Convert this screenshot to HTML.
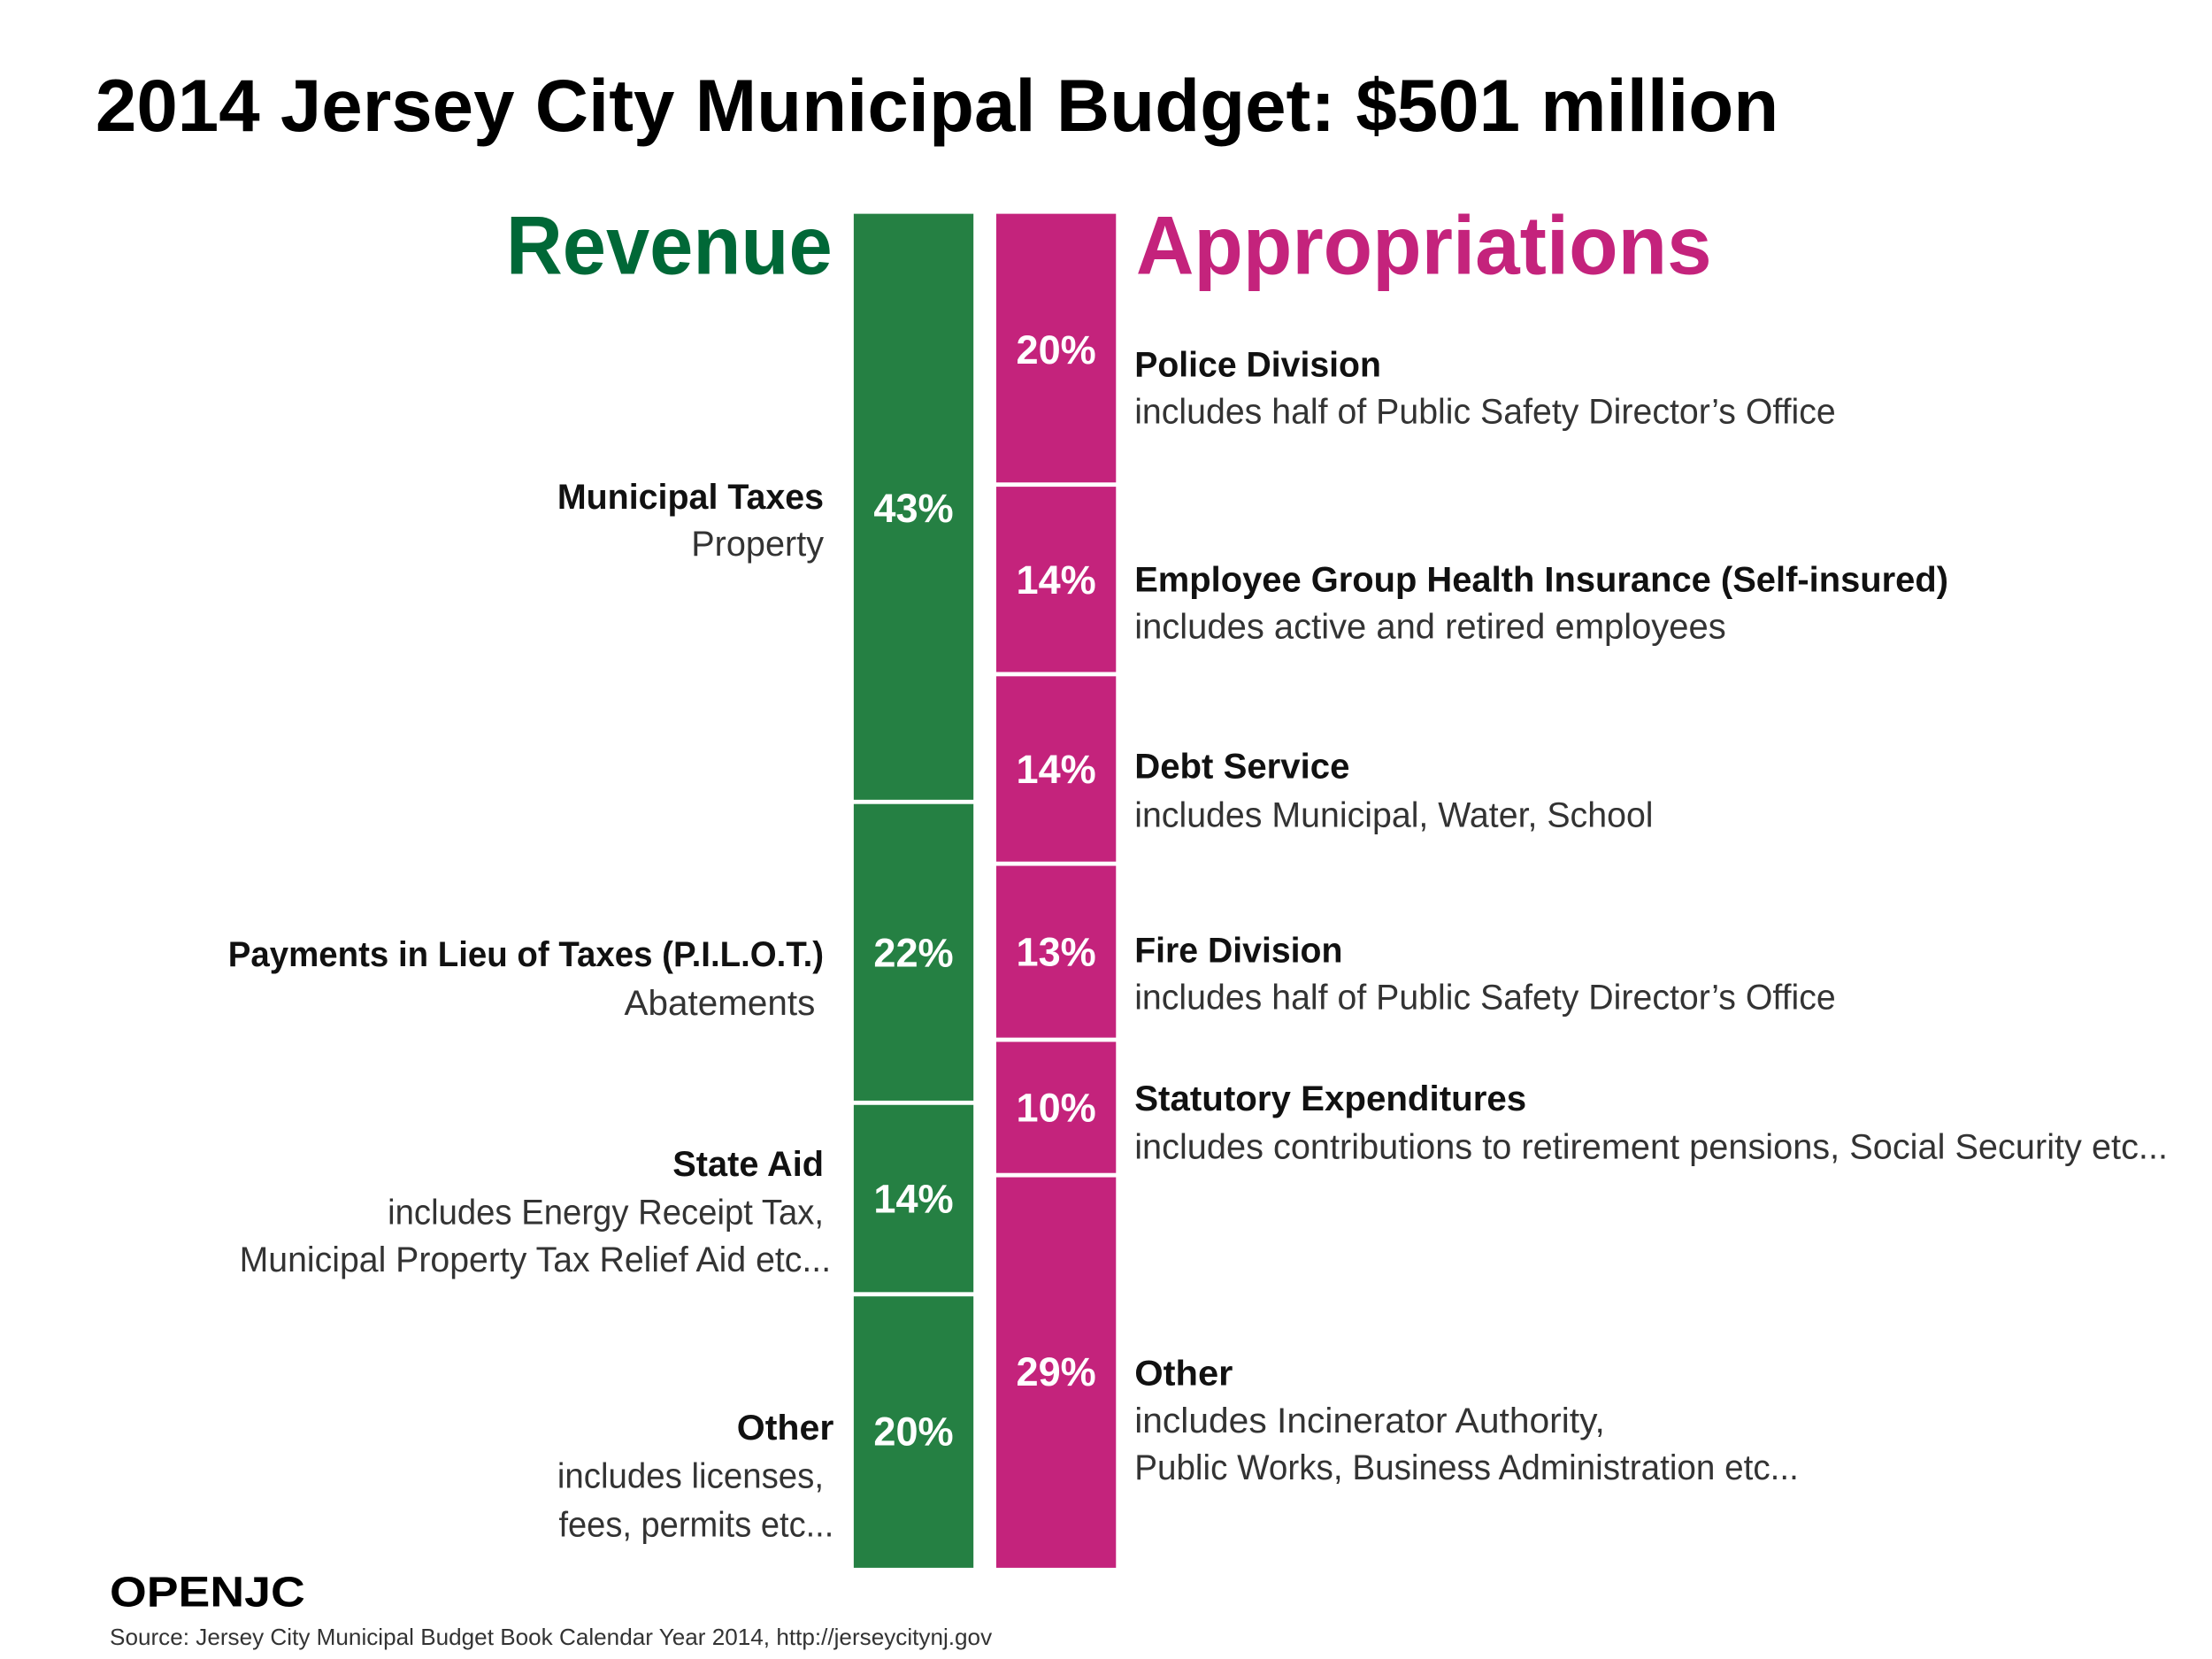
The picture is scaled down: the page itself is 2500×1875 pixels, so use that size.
<!DOCTYPE html>
<html><head><meta charset="utf-8"><style>
html,body{margin:0;padding:0;background:#fff;}
svg{display:block;}
text{font-family:"Liberation Sans",sans-serif;}
.b{font-weight:bold;fill:#111;font-size:25px;}
.l{fill:#333;font-size:25px;}
.pct{font-weight:bold;fill:#fff;font-size:28px;text-anchor:middle;}
</style></head><body>
<svg id="chart" width="2500" height="1875" viewBox="0 0 1552 1164" xmlns="http://www.w3.org/2000/svg">
<rect width="1552" height="1164" fill="#fff"/>
<text x="67" y="92" font-size="52" font-weight="bold" fill="#000" textLength="1181" lengthAdjust="spacingAndGlyphs">2014 Jersey City Municipal Budget:  $501 million</text>
<text x="355" y="192" font-size="58" font-weight="bold" fill="#006837" textLength="229" lengthAdjust="spacingAndGlyphs">Revenue</text>
<text x="797" y="192" font-size="58" font-weight="bold" fill="#C4237C" textLength="404" lengthAdjust="spacingAndGlyphs">Appropriations</text>
<g id="bars"></g>

<g text-anchor="end">
<text class="b" x="578" y="357" textLength="187" lengthAdjust="spacingAndGlyphs">Municipal Taxes</text>
<text class="l" x="578" y="390" textLength="93" lengthAdjust="spacingAndGlyphs">Property</text>
<text class="b" x="578" y="678" textLength="418" lengthAdjust="spacingAndGlyphs">Payments in Lieu of Taxes (P.I.L.O.T.)</text>
<text class="l" x="572" y="712" textLength="134" lengthAdjust="spacingAndGlyphs">Abatements</text>
<text class="b" x="578" y="825" textLength="106" lengthAdjust="spacingAndGlyphs">State Aid</text>
<text class="l" x="578" y="859" textLength="306" lengthAdjust="spacingAndGlyphs">includes Energy Receipt Tax,</text>
<text class="l" x="583" y="892" textLength="415" lengthAdjust="spacingAndGlyphs">Municipal Property Tax Relief Aid etc...</text>
<text class="b" x="585" y="1010" textLength="68" lengthAdjust="spacingAndGlyphs">Other</text>
<text class="l" x="578" y="1044" textLength="187" lengthAdjust="spacingAndGlyphs">includes licenses,</text>
<text class="l" x="585" y="1078" textLength="193" lengthAdjust="spacingAndGlyphs">fees, permits etc...</text>
</g>

<g>
<text class="b" x="796" y="264" textLength="173" lengthAdjust="spacingAndGlyphs">Police Division</text>
<text class="l" x="796" y="297" textLength="492" lengthAdjust="spacingAndGlyphs">includes half of Public Safety Director’s Office</text>
<text class="b" x="796" y="415" textLength="571" lengthAdjust="spacingAndGlyphs">Employee Group Health Insurance (Self-insured)</text>
<text class="l" x="796" y="448" textLength="415" lengthAdjust="spacingAndGlyphs">includes active and retired employees</text>
<text class="b" x="796" y="546" textLength="151" lengthAdjust="spacingAndGlyphs">Debt Service</text>
<text class="l" x="796" y="580" textLength="364" lengthAdjust="spacingAndGlyphs">includes Municipal, Water, School</text>
<text class="b" x="796" y="675" textLength="146" lengthAdjust="spacingAndGlyphs">Fire Division</text>
<text class="l" x="796" y="708" textLength="492" lengthAdjust="spacingAndGlyphs">includes half of Public Safety Director’s Office</text>
<text class="b" x="796" y="779" textLength="275" lengthAdjust="spacingAndGlyphs">Statutory Expenditures</text>
<text class="l" x="796" y="813" textLength="725" lengthAdjust="spacingAndGlyphs">includes contributions to retirement pensions, Social Security etc...</text>
<text class="b" x="796" y="972" textLength="69" lengthAdjust="spacingAndGlyphs">Other</text>
<text class="l" x="796" y="1005" textLength="330" lengthAdjust="spacingAndGlyphs">includes Incinerator Authority,</text>
<text class="l" x="796" y="1038" textLength="466" lengthAdjust="spacingAndGlyphs">Public Works, Business Administration etc...</text>
</g>

<text x="77" y="1127" font-size="30" font-weight="bold" fill="#000" textLength="137" lengthAdjust="spacingAndGlyphs">OPENJC</text>
<text x="77" y="1154" font-size="16" fill="#333" textLength="619" lengthAdjust="spacingAndGlyphs">Source: Jersey City Municipal Budget Book Calendar Year 2014, http://jerseycitynj.gov</text>
</svg>
<script>
const revenueCategories = ["Municipal Taxes", "Payments in Lieu of Taxes", "State Aid", "Other"];
const revenueValues = [43, 22, 14, 20];
const appropCategories = ["Police Division", "Employee Group Health Insurance", "Debt Service", "Fire Division", "Statutory Expenditures", "Other"];
const appropValues = [20, 14, 14, 13, 10, 29];

const NS = "http://www.w3.org/2000/svg";
const g = document.getElementById("bars");
const top0 = 150, bottom0 = 1100;
function yScale(cum, total) { return top0 + (bottom0 - top0) * cum / total; }

function drawColumn(cats, vals, x, w, color, prefix) {
  const total = vals.reduce((a, b) => a + b, 0);
  let cum = 0;
  vals.forEach((v, i) => {
    const y0 = yScale(cum, total);
    const y1 = yScale(cum + v, total);
    cum += v;
    const r = document.createElementNS(NS, "rect");
    r.setAttribute("x", x);
    r.setAttribute("y", y0 + (i > 0 ? 1.5 : 0));
    r.setAttribute("width", w);
    r.setAttribute("height", y1 - y0 - (i > 0 ? 1.5 : 0) - (i < vals.length - 1 ? 1.5 : 0));
    r.setAttribute("fill", color);
    
    
    g.appendChild(r);
    const t = document.createElementNS(NS, "text");
    t.setAttribute("x", x + w / 2);
    t.setAttribute("y", (y0 + y1) / 2 + 10);
    t.setAttribute("class", "pct");
    t.textContent = v + "%";
    
    
    g.appendChild(t);
  });
}
drawColumn(revenueCategories, revenueValues, 599, 84, "#258043", "revenue");
drawColumn(appropCategories, appropValues, 699, 84, "#C4237C", "appropriation");
</script>
</body></html>
